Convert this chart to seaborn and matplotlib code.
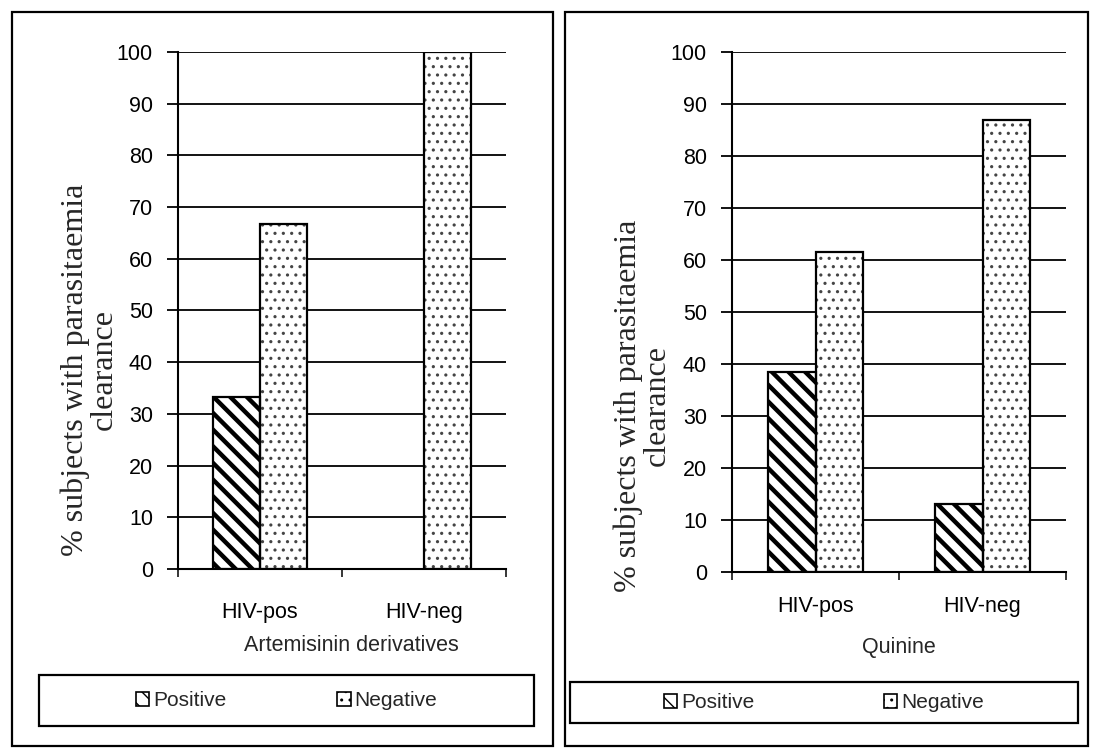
import matplotlib
matplotlib.use("Agg")
import matplotlib.pyplot as plt
from matplotlib.patches import Rectangle, Patch
import pandas as pd
import seaborn as sns

# ------------------------------------------------------------------
# data
# ------------------------------------------------------------------
groups = ["HIV-pos", "HIV-neg"]
statuses = ["Positive", "Negative"]
artemisinin_positive = [33.3, 0.0]
artemisinin_negative = [66.7, 100.0]
quinine_positive = [38.5, 13.0]
quinine_negative = [61.5, 87.0]
y_ticks = list(range(0, 101, 10))
y_label = "% subjects with parasitaemia\nclearance"

W, H = 1094, 754
TICK_FONT = "Liberation Sans"
LABEL_FONT = "Liberation Serif"

sns.set_style("white")
plt.rcParams["font.family"] = [TICK_FONT, "DejaVu Sans"]

HATCH = {"Positive": ("\\\\", "black", 3.2), "Negative": ("..", "#444444", 1.1)}


def px_rect(x0, y0, x1, y1):
    return [x0 / W, 1 - y1 / H, (x1 - x0) / W, (y1 - y0) / H]


def make_df(pos, neg):
    rows = []
    for g, p, n in zip(groups, pos, neg):
        rows.append({"group": g, "status": "Positive", "value": p})
        rows.append({"group": g, "status": "Negative", "value": n})
    return pd.DataFrame(rows)


def style_bars(ax):
    # seaborn draws hue levels in order: all Positive bars then all Negative
    bars = [p for p in ax.patches if isinstance(p, Rectangle)]
    for i, bar in enumerate(bars):
        status = statuses[i // len(groups)]
        hatch, col, lw = HATCH[status]
        bar.set_facecolor("white")
        bar.set_hatch(hatch)
        bar.set_edgecolor(col)
        bar.set_linewidth(0)
        if hasattr(bar, "set_hatch_linewidth"):
            bar.set_hatch_linewidth(lw)
        if bar.get_height() > 0:
            ax.add_patch(Rectangle(bar.get_xy(), bar.get_width(), bar.get_height(),
                                   fill=False, edgecolor="black", linewidth=1.6, zorder=3))


def draw_panel(ax, df, xlabel, xl_coords, yl_coords, tick_pad):
    sns.barplot(data=df, x="group", y="value", hue="status", hue_order=statuses,
                order=groups, width=0.57, ax=ax, legend=False, zorder=2)
    style_bars(ax)
    ax.set_ylim(0, 100)
    ax.set_xlim(-0.5, 1.5)
    ax.set_yticks(y_ticks)
    ax.yaxis.grid(True, color="black", linewidth=1.3)
    ax.set_axisbelow(True)
    for s in ["top", "right"]:
        ax.spines[s].set_visible(False)
    for s in ["left", "bottom"]:
        ax.spines[s].set_color("black")
        ax.spines[s].set_linewidth(1.5)
    ax.tick_params(axis="y", length=8, width=1.3, direction="out", pad=10,
                   labelsize=15.5, colors="black", left=True)
    ax.set_xticks([-0.5, 0.5, 1.5], minor=True)
    ax.tick_params(axis="x", which="minor", length=6, width=1.3, direction="out", bottom=True)
    ax.tick_params(axis="x", which="major", length=0, pad=tick_pad, labelsize=15.5, colors="black")
    ax.set_ylabel(y_label, fontfamily=LABEL_FONT, fontsize=23, linespacing=1.0)
    ax.yaxis.set_label_coords(*yl_coords)
    ax.set_xlabel(xlabel, fontsize=15.5)
    ax.xaxis.set_label_coords(*xl_coords)


fig = plt.figure(figsize=(W / 100, H / 100), dpi=100)

# panel frames
for x0, x1 in [(12, 553), (565, 1088)]:
    fig.add_artist(Rectangle((x0 / W, 1 - 746 / H), (x1 - x0) / W, (746 - 12) / H,
                             transform=fig.transFigure, fill=False,
                             edgecolor="black", linewidth=1.6))

ax_l = fig.add_axes(px_rect(178, 52, 506, 569))
draw_panel(ax_l, make_df(artemisinin_positive, artemisinin_negative),
           "Artemisinin derivatives", (0.53, -0.128), (-0.18, 0.385), 24)

ax_r = fig.add_axes(px_rect(732, 52, 1066, 572))
draw_panel(ax_r, make_df(quinine_positive, quinine_negative),
           "Quinine", (0.5, -0.125), (-0.18, 0.32), 17)

# legends
handles = []
for s in statuses:
    hatch, col, lw = HATCH[s]
    handles.append(Patch(facecolor="white", edgecolor="black", hatch=hatch, linewidth=1.2, label=s))

for (x0, y0, x1, y1), spacing in [((39, 675, 534, 726), 5.3), ((570, 682, 1078, 723), 6.2)]:
    fig.add_artist(Rectangle((x0 / W, 1 - y1 / H), (x1 - x0) / W, (y1 - y0) / H,
                             transform=fig.transFigure, fill=False,
                             edgecolor="black", linewidth=1.6))
    fig.legend(handles=handles, ncol=2, frameon=False, loc="center",
               bbox_to_anchor=((x0 + x1) / 2 / W, 1 - (y0 + y1) / 2 / H),
               fontsize=15, handlelength=0.65, handleheight=0.65,
               handletextpad=0.2, columnspacing=spacing)

fig.savefig("out.png", dpi=100)
